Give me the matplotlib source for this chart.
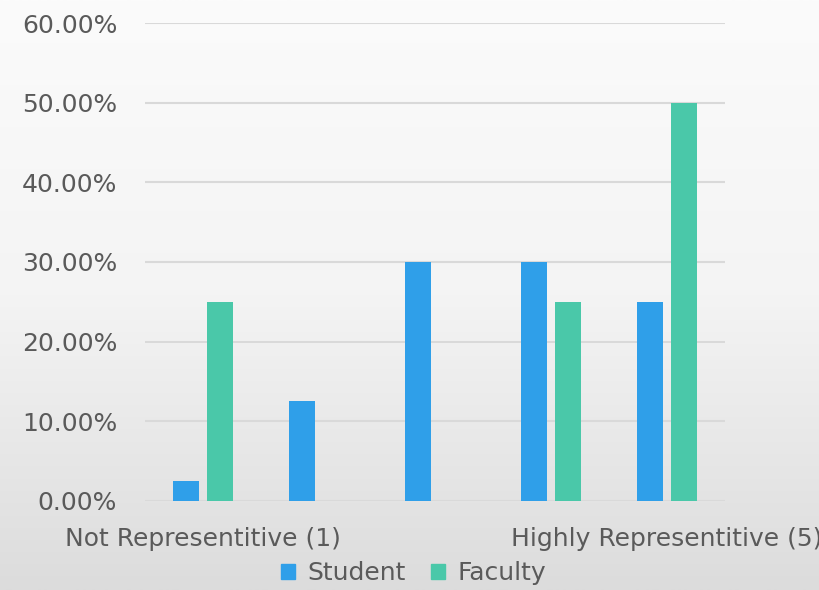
import numpy as np
import matplotlib
matplotlib.use("Agg")
import matplotlib.pyplot as plt
from matplotlib.patches import Patch

categories = ["Not Representitive (1)", "", "", "", "Highly Representitive (5)"]
student = [2.5, 12.5, 30.0, 30.0, 25.0]
faculty = [25.0, 0.0, 0.0, 25.0, 50.0]
yticks = [0, 10, 20, 30, 40, 50, 60]

blue = "#2f9fe9"
teal = "#4ac8a9"
text_color = "#5a5a5a"

plt.rcParams["font.family"] = ["DejaVu Sans"]

fig = plt.figure(figsize=(8.19, 5.90), dpi=100)

# soft grey backdrop, lighter at the top
bg = fig.add_axes([0, 0, 1, 1], zorder=-10)
grad = np.linspace(0, 1, 256).reshape(-1, 1)
bg.imshow(grad, cmap=matplotlib.colors.LinearSegmentedColormap.from_list(
    "bg", ["#fbfbfb", "#f4f4f4", "#dcdcdc"]), aspect="auto", extent=[0, 1, 0, 1])
bg.axis("off")

ax = fig.add_axes([0.177, 0.151, 0.708, 0.810])
ax.set_facecolor("none")

x = np.arange(len(categories))
w = 0.225
ax.bar(x - 0.145, student, w, color=blue, label="Student", zorder=3)
ax.bar(x + 0.145, faculty, w, color=teal, label="Faculty", zorder=3)

ax.set_xlim(-0.5, 4.5)
ax.set_ylim(0, 60)
ax.set_yticks(yticks)
ax.set_yticklabels([f"{v:.2f}%" for v in yticks])
ax.set_xticks(x)
ax.set_xticklabels(categories)

ax.grid(axis="y", color="#d9d9d9", linewidth=1.5, zorder=0)
for s in ax.spines.values():
    s.set_visible(False)
ax.tick_params(axis="both", length=0, colors=text_color, labelsize=18)
ax.tick_params(axis="y", pad=20)
ax.tick_params(axis="x", pad=19)
ax.set_axisbelow(True)

handles = [Patch(color=blue, label="Student"), Patch(color=teal, label="Faculty")]
fig.legend(handles=handles, loc="lower center", bbox_to_anchor=(0.505, -0.03),
           ncol=2, frameon=False, fontsize=18, labelcolor=text_color,
           handlelength=0.55, handleheight=0.55, handletextpad=0.5, columnspacing=1.0)

fig.savefig("out.png", dpi=100)
